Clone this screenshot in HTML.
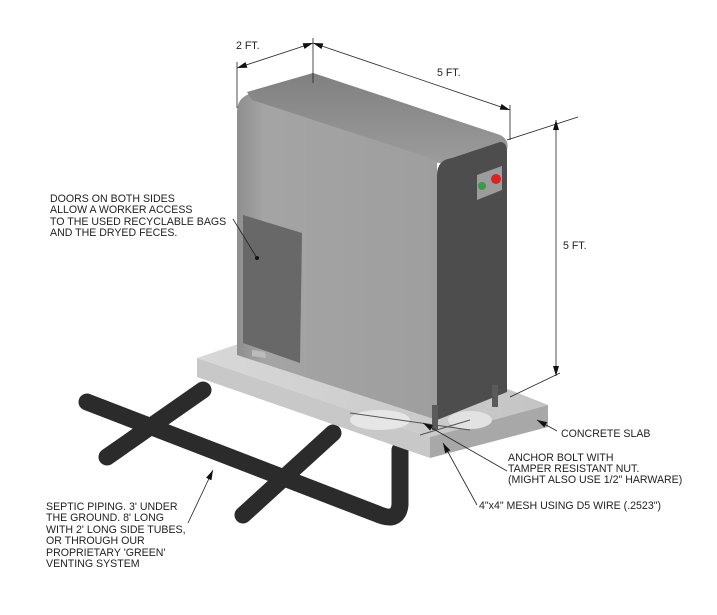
<!DOCTYPE html>
<html><head><style>
html,body{margin:0;padding:0;background:#fff;}
svg{display:block;}
text{font-family:"Liberation Sans",sans-serif;font-size:10.6px;fill:#222;}
</style></head><body>
<svg width="717" height="615" viewBox="0 0 717 615" xmlns="http://www.w3.org/2000/svg">
<defs>
<linearGradient id="side" x1="0" y1="0" x2="1" y2="0">
<stop offset="0" stop-color="#8e8e8e"/><stop offset="0.1" stop-color="#a4a4a4"/><stop offset="1" stop-color="#9c9c9c"/></linearGradient>
<linearGradient id="top" x1="0" y1="0" x2="0" y2="1">
<stop offset="0" stop-color="#808080"/><stop offset="1" stop-color="#9c9c9c"/></linearGradient>
<linearGradient id="slab" x1="0" y1="0" x2="1" y2="0">
<stop offset="0" stop-color="#d8d8d8"/><stop offset="1" stop-color="#c4c4c4"/></linearGradient>
<marker id="ar" viewBox="0 0 10 6" refX="10" refY="3" markerWidth="10" markerHeight="6" orient="auto-start-reverse" markerUnits="userSpaceOnUse"><path d="M0,0 L10,3 L0,6 z" fill="#111"/></marker>
</defs>

<g stroke="#2b2b2b" stroke-width="17" stroke-linecap="round" fill="none">
<line x1="107" y1="457" x2="203" y2="390"/>
<line x1="243" y1="515" x2="333" y2="433"/>
<path d="M87,402 L380,515 Q398,522 400,505 L400,450"/>
</g>

<polygon points="197,358 250,340 505,388 548,405 430,437" fill="url(#slab)"/>
<polygon points="197,358 430,437 430,458 197,377" fill="#c8c8c8"/>
<polygon points="430,437 548,405 548,427 430,458" fill="#a8a8a8"/>
<ellipse cx="380" cy="420" rx="30" ry="10" fill="#e6e6e6"/>
<ellipse cx="470" cy="420" rx="22" ry="9" fill="#e2e2e2"/>
<g stroke="#555" stroke-width="1">
<line x1="350" y1="413" x2="470" y2="430"/>
<line x1="420" y1="435" x2="470" y2="420"/>
</g>

<path d="M237,112 Q237,97 252,93 L313,73 L500,135 Q510,140 507,150 L437,163 L437,420 L237,355 z" fill="url(#side)"/>
<path d="M247,92 L313,73 L500,135 Q508,139 505,147 L447,165 Q437,163 430,158 L252,100 z" fill="url(#top)"/>
<path d="M437,175 Q437,160 452,158 L500,142 Q507,142 507,152 L507,392 L437,420 z" fill="#4d4d4d"/>
<rect x="432" y="405" width="6" height="25" fill="#5a5a5a"/>
<rect x="492" y="385" width="6" height="22" fill="#5a5a5a"/>
<polygon points="243,215 302,233 300,363 243,343" fill="#686868"/>
<circle cx="257" cy="258" r="2" fill="#111"/>
<polygon points="252,350 265,352 266,358 252,356" fill="#bbb"/>
<polygon points="477,175 502,166 502,190 477,200" fill="#9c9c9c"/>
<circle cx="482" cy="186" r="4" fill="#3a9a4a"/>
<circle cx="496" cy="179" r="5" fill="#d22"/>

<g stroke="#222" stroke-width="0.8" fill="none">
<line x1="237" y1="62" x2="237" y2="108"/>
<line x1="313" y1="38" x2="313" y2="83"/>
<line x1="510" y1="105" x2="510" y2="140"/>
<line x1="237" y1="68" x2="313" y2="43" marker-start="url(#ar)" marker-end="url(#ar)"/>
<line x1="313" y1="43" x2="510" y2="110" marker-start="url(#ar)" marker-end="url(#ar)"/>
<line x1="507" y1="140" x2="578" y2="117"/>
<line x1="510" y1="397" x2="560" y2="373"/>
<line x1="556" y1="120" x2="556" y2="376" marker-start="url(#ar)" marker-end="url(#ar)"/>
<line x1="233" y1="219" x2="257" y2="258"/>
<line x1="188" y1="523" x2="213" y2="470" marker-end="url(#ar)"/>
<line x1="557" y1="431" x2="537" y2="420" marker-end="url(#ar)"/>
<line x1="507" y1="471" x2="423" y2="423" marker-end="url(#ar)"/>
<line x1="477" y1="505" x2="443" y2="443" marker-end="url(#ar)"/>
</g>

<text x="236" y="49">2 FT.</text>
<text x="437" y="76">5 FT.</text>
<text x="563" y="249">5 FT.</text>
<text x="50" y="202">DOORS ON BOTH SIDES</text>
<text x="50" y="213">ALLOW A WORKER ACCESS</text>
<text x="50" y="225">TO THE USED RECYCLABLE BAGS</text>
<text x="50" y="236">AND THE DRYED FECES.</text>
<text x="561" y="437">CONCRETE SLAB</text>
<text x="508" y="461">ANCHOR BOLT WITH</text>
<text x="508" y="472">TAMPER RESISTANT NUT.</text>
<text x="508" y="483">(MIGHT ALSO USE 1/2" HARWARE)</text>
<text x="479" y="509">4"x4" MESH USING D5 WIRE (.2523")</text>
<text x="46" y="510">SEPTIC PIPING. 3' UNDER</text>
<text x="46" y="521">THE GROUND. 8' LONG</text>
<text x="46" y="533">WITH 2' LONG SIDE TUBES,</text>
<text x="46" y="544">OR THROUGH OUR</text>
<text x="46" y="556">PROPRIETARY 'GREEN'</text>
<text x="46" y="567">VENTING SYSTEM</text>
</svg>
</body></html>
